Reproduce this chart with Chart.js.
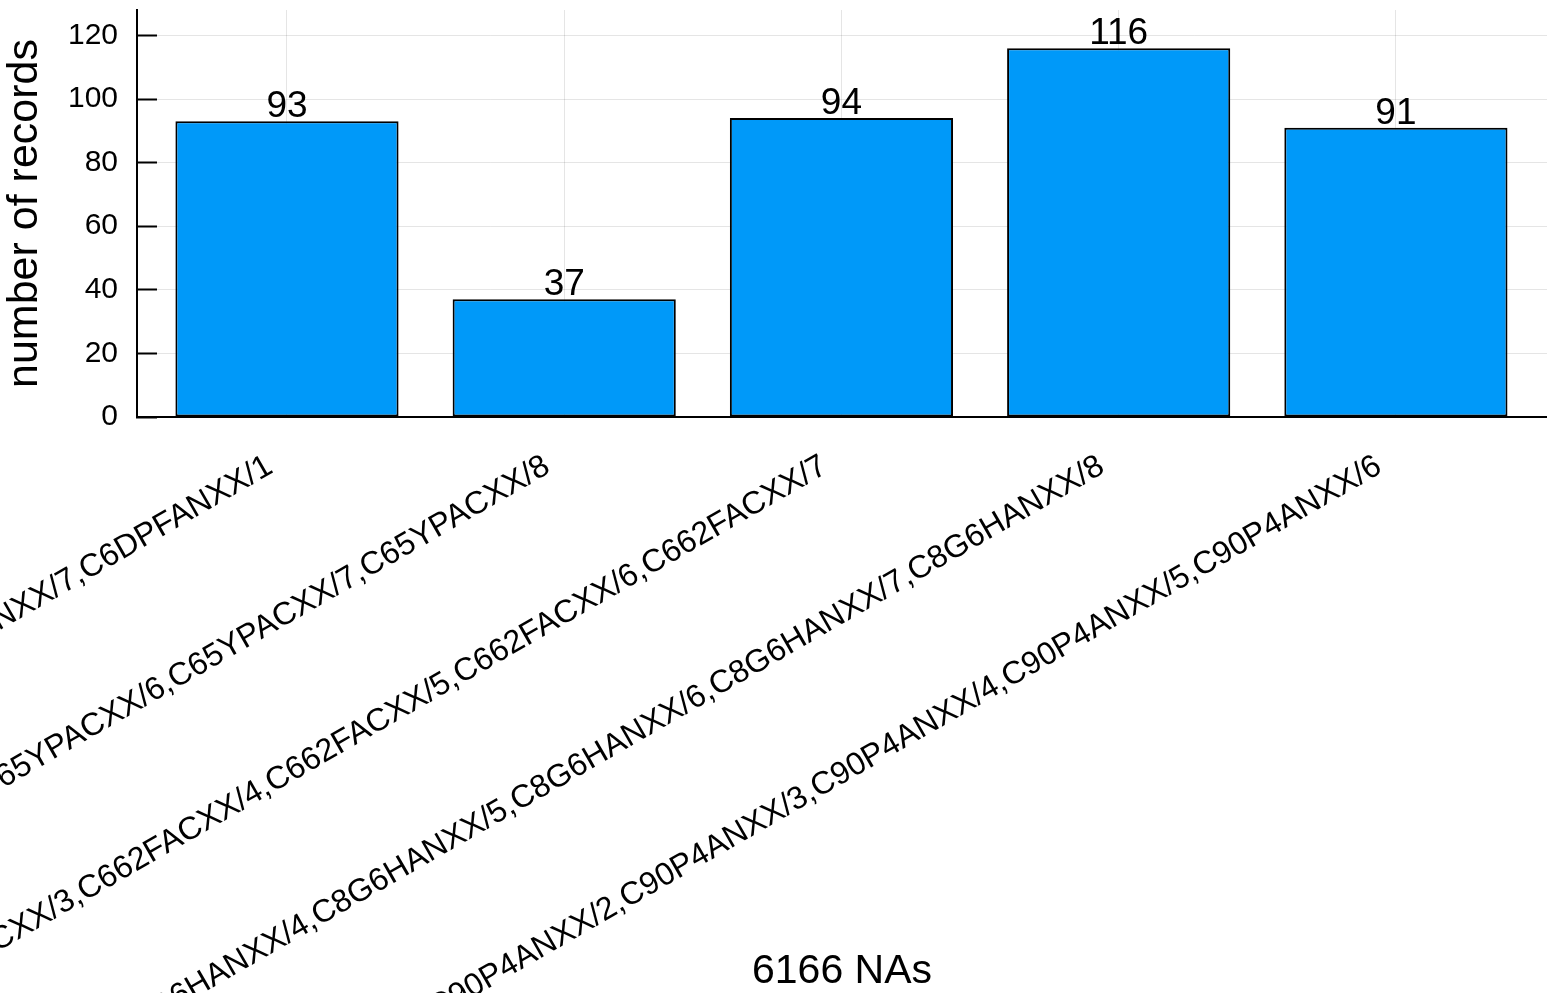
<!DOCTYPE html>
<html>
<head>
<meta charset="utf-8">
<title>records per flowcell lanes</title>
<script src="https://cdn.jsdelivr.net/npm/chart.js@4/dist/chart.umd.min.js"></script>
<style>
  html, body { margin: 0; padding: 0; background: #fff; }
  canvas { display: block; }
</style>
</head>
<body>
<canvas id="chart" width="1547" height="993"></canvas>
<script>
// lane groups (x categories), left part of the long ones runs off the canvas
const categories = [
    'C6DPFANXX/6,C6DPFANXX/7,C6DPFANXX/1',
    'C65YPACXX/1,C65YPACXX/2,C65YPACXX/3,C65YPACXX/4,C65YPACXX/5,C65YPACXX/6,C65YPACXX/7,C65YPACXX/8',
    'C662FACXX/1,C662FACXX/2,C662FACXX/3,C662FACXX/4,C662FACXX/5,C662FACXX/6,C662FACXX/7',
    'C8G6HANXX/1,C8G6HANXX/2,C8G6HANXX/3,C8G6HANXX/4,C8G6HANXX/5,C8G6HANXX/6,C8G6HANXX/7,C8G6HANXX/8',
    'C90P4ANXX/1,C90P4ANXX/2,C90P4ANXX/3,C90P4ANXX/4,C90P4ANXX/5,C90P4ANXX/6'
];
const records = [93, 37, 94, 116, 91];
const yTicks = [0, 20, 40, 60, 80, 100, 120];
const xTitle = '6166 NAs';
const yTitle = 'number of records';

const FONT = '"Liberation Sans", Arial, Helvetica, sans-serif';

// value on top of each bar + rotated category labels
const labelsPlugin = {
    id: 'labels',
    afterDatasetsDraw(chart) {
        const ctx = chart.ctx;
        const meta = chart.getDatasetMeta(0);
        ctx.save();
        ctx.fillStyle = '#000';
        ctx.font = '37px ' + FONT;
        ctx.textAlign = 'center';
        ctx.textBaseline = 'alphabetic';
        meta.data.forEach((bar, i) => {
            ctx.fillText(String(records[i]), bar.x, bar.y - 4);
        });
        ctx.restore();
    },
    afterDraw(chart) {
        const ctx = chart.ctx;
        const xs = chart.scales.x;
        ctx.save();
        ctx.fillStyle = '#000';
        ctx.font = '32px ' + FONT;
        ctx.textAlign = 'right';
        ctx.textBaseline = 'middle';
        categories.forEach((label, i) => {
            ctx.save();
            ctx.translate(xs.getPixelForValue(i) - 17, xs.top + 47);
            ctx.rotate(-Math.PI / 6);
            ctx.fillText(label, 0, 0);
            ctx.restore();
        });
        ctx.restore();
    }
};

new Chart(document.getElementById('chart'), {
    type: 'bar',
    data: {
        datasets: [{
            data: records.map((v, i) => ({ x: i, y: v })),
            backgroundColor: '#0099F9',
            borderColor: '#000',
            borderWidth: 2,
            borderSkipped: false,
            barPercentage: 1,
            categoryPercentage: 0.805
        }]
    },
    options: {
        responsive: false,
        animation: false,
        devicePixelRatio: 1,
        layout: { padding: { top: 10, left: 0, right: 0, bottom: 0 } },
        plugins: {
            legend: { display: false },
            tooltip: { enabled: false }
        },
        scales: {
            x: {
                type: 'linear',
                offset: false,
                min: -0.541,
                max: 4.545,
                afterBuildTicks: (scale) => {
                    scale.ticks = categories.map((_, i) => ({ value: i }));
                },
                afterFit: (scale) => {
                    scale.height = 576;
                    scale.paddingLeft = 0;
                    scale.paddingRight = 0;
                },
                ticks: { display: false },
                grid: {
                    offset: false,
                    color: 'rgba(0,0,0,0.1)',
                    lineWidth: 1,
                    drawTicks: false
                },
                border: { display: true, color: '#000', width: 2 },
                title: {
                    display: true,
                    text: xTitle,
                    color: '#000',
                    font: { family: FONT, size: 41, lineHeight: 1.05 },
                    padding: 0
                }
            },
            y: {
                min: 0,
                max: 128,
                afterBuildTicks: (scale) => {
                    scale.ticks = yTicks.map(v => ({ value: v }));
                },
                afterFit: (scale) => {
                    scale.width = 137;
                    scale.paddingTop = 0;
                    scale.paddingBottom = 0;
                },
                ticks: {
                    color: '#000',
                    padding: 39,
                    font: { family: FONT, size: 30 }
                },
                grid: {
                    color: 'rgba(0,0,0,0.1)',
                    lineWidth: 1,
                    drawTicks: true,
                    tickLength: -20,
                    tickColor: '#000',
                    tickWidth: 2
                },
                border: { display: true, color: '#000', width: 2 },
                title: {
                    display: true,
                    text: yTitle,
                    color: '#000',
                    font: { family: FONT, size: 43, lineHeight: 1.15 },
                    padding: 0
                }
            }
        }
    },
    plugins: [labelsPlugin]
});
</script>
</body>
</html>
